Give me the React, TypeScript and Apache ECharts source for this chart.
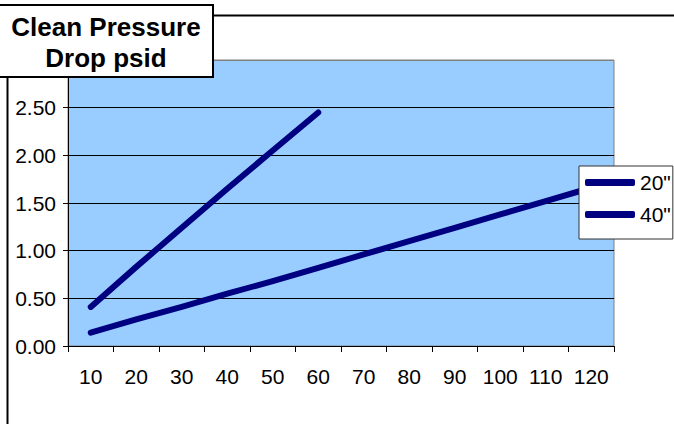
import React, { useEffect, useRef } from "react";
import * as echarts from "echarts";

const categories = ["10", "20", "30", "40", "50", "60", "70", "80", "90", "100", "110", "120"];
const seriesNames = ['20"', '40"'];
const values20 = [0.41, 0.83, 1.24, 1.65, 2.05, 2.45];
const values40 = [0.14, 0.28, 0.41, 0.55, 0.68, 0.82, 0.96, 1.1, 1.24, 1.38, 1.52, 1.66];
const yMin = 0;
const yMax = 3;
const yInterval = 0.5;
const titleLines = ["Clean Pressure", "Drop psid"];

const FONT = "'Liberation Sans', Arial, sans-serif";
const NAVY = "#000080";

export default function App() {
  const ref = useRef<HTMLDivElement>(null);

  useEffect(() => {
    if (!ref.current) return;
    const chart = echarts.init(ref.current, undefined, { renderer: "svg" });
    const pad = (arr: number[]) => categories.map((_, i) => (i < arr.length ? arr[i] : null));

    chart.setOption({
      animation: false,
      backgroundColor: "#ffffff",
      grid: {
        left: 68,
        top: 60,
        width: 546,
        height: 286,
        show: true,
        backgroundColor: "#99CCFF",
        borderColor: "#808080",
        borderWidth: 1,
        containLabel: false,
      },
      legend: {
        orient: "vertical",
        left: 579,
        top: 166,
        padding: [6, 2, 14, 6],
        itemWidth: 50,
        itemHeight: 7,
        itemGap: 11,
        icon: "roundRect",
        backgroundColor: "#ffffff",
        borderColor: "#333333",
        borderWidth: 1,
        textStyle: { fontFamily: FONT, fontSize: 21, color: "#000" },
        data: seriesNames,
      },
      xAxis: {
        type: "category",
        data: categories,
        boundaryGap: true,
        axisLine: { lineStyle: { color: "#000", width: 1 } },
        axisTick: { show: true, length: 6, interval: 0, lineStyle: { color: "#000" } },
        axisLabel: {
          interval: 0,
          margin: 20,
          fontFamily: FONT,
          fontSize: 21,
          color: "#000",
        },
        splitLine: { show: false },
      },
      yAxis: {
        type: "value",
        min: yMin,
        max: yMax,
        interval: yInterval,
        axisLine: { show: true, lineStyle: { color: "#000", width: 1 } },
        axisTick: { show: true, length: 5, lineStyle: { color: "#000" } },
        axisLabel: {
          margin: 12,
          fontFamily: FONT,
          fontSize: 21,
          color: "#000",
          formatter: (v: number) => (v >= yMax ? "" : v.toFixed(2)),
        },
        splitLine: {
          show: true,
          lineStyle: {
            color: ["#000", "#000", "#000", "#000", "#000", "#000", "#808080"],
            width: 1,
          },
        },
      },
      series: [
        {
          name: seriesNames[0],
          type: "line",
          data: pad(values20),
          symbol: "none",
          connectNulls: false,
          color: NAVY,
          lineStyle: { color: NAVY, width: 6, cap: "round", join: "round" },
        },
        {
          name: seriesNames[1],
          type: "line",
          data: pad(values40),
          symbol: "none",
          color: NAVY,
          lineStyle: { color: NAVY, width: 6, cap: "round", join: "round" },
        },
      ],
      graphic: [
        {
          type: "rect",
          z: 90,
          silent: true,
          shape: { x: 7.5, y: 15.5, width: 720, height: 460 },
          style: { fill: "none", stroke: "#000", lineWidth: 2 },
        },
        {
          type: "rect",
          z: 100,
          silent: true,
          shape: { x: -6, y: 5, width: 219, height: 72 },
          style: { fill: "#ffffff", stroke: "#000", lineWidth: 2 },
        },
        {
          type: "text",
          z: 101,
          x: 106,
          y: 27,
          style: {
            text: titleLines[0],
            fontFamily: FONT,
            fontSize: 26,
            fontWeight: "bold",
            fill: "#000",
            align: "center",
            verticalAlign: "middle",
          },
        },
        {
          type: "text",
          z: 101,
          x: 106,
          y: 58,
          style: {
            text: titleLines[1],
            fontFamily: FONT,
            fontSize: 26,
            fontWeight: "bold",
            fill: "#000",
            align: "center",
            verticalAlign: "middle",
          },
        },
      ],
    });

    return () => chart.dispose();
  }, []);

  return (
    <div
      ref={ref}
      style={{ position: "absolute", left: 0, top: 0, width: 674, height: 424 }}
    />
  );
}
